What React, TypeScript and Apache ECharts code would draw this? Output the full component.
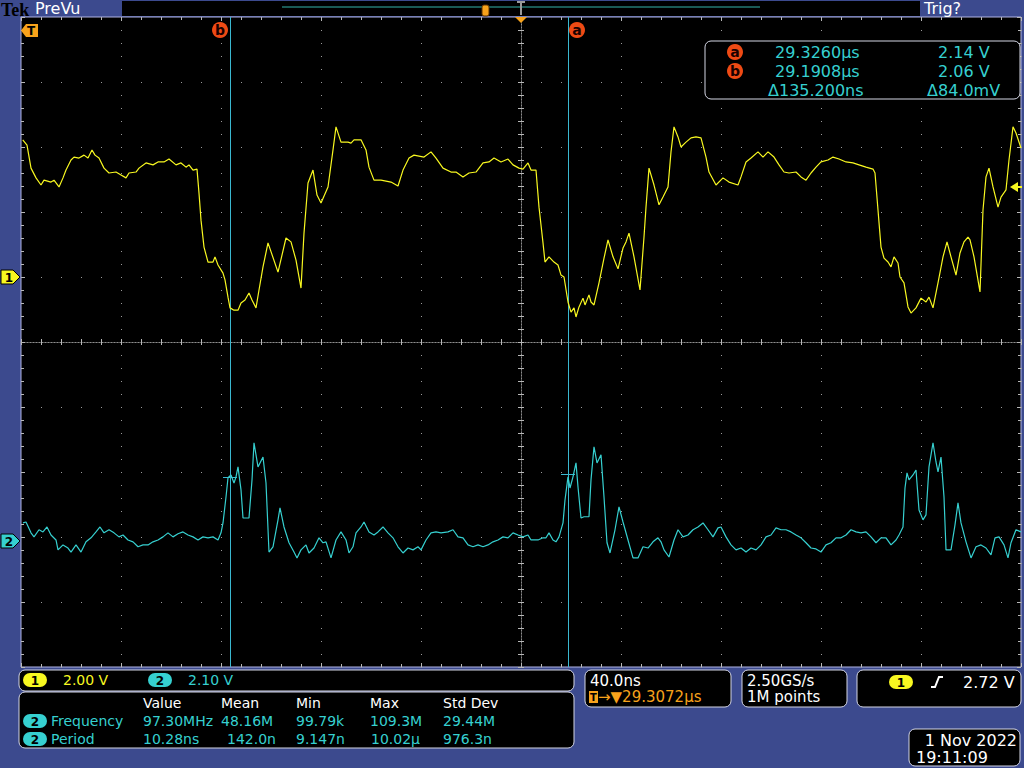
import { useEffect, useRef } from "react";
import * as echarts from "echarts";

// ---------- acquisition settings ----------
const TRIGGER_US = 29.3072;
const TIME_MIN_NS = -200;
const TIME_MAX_NS = 200;
const NS_PER_DIV = 40;
const DIV_MIN = -5;
const DIV_MAX = 5;
const CH1_V_PER_DIV = 2.0;
const CH1_POS_DIV = 1.0;
const CH2_V_PER_DIV = 2.1;
const CH2_POS_DIV = -3.06;

// ---------- waveforms: [time from trigger (ns), volts] ----------
const ch1Trace: [number, number][] = [
  [-199.3, 4.22], [-197.6, 4.06], [-196.0, 3.35], [-194.0, 3.05], [-192.0, 2.83], [-190.8, 2.98], [-188.0, 2.92], [-186.8, 2.98],
  [-184.8, 2.77], [-183.2, 3.05], [-182.0, 3.29], [-180.0, 3.6], [-178.8, 3.69], [-176.8, 3.66], [-174.8, 3.75], [-173.2, 3.66],
  [-171.6, 3.91], [-170.4, 3.75], [-168.8, 3.66], [-166.8, 3.35], [-164.8, 3.2], [-162.0, 3.23], [-160.0, 3.14], [-158.0, 3.05],
  [-156.8, 3.2], [-154.0, 3.23], [-152.8, 3.35], [-150.0, 3.51], [-147.2, 3.45], [-145.2, 3.54], [-142.8, 3.54], [-140.8, 3.63],
  [-138.0, 3.45], [-136.0, 3.51], [-134.0, 3.38], [-132.8, 3.45], [-131.2, 3.29], [-129.6, 3.32], [-128.8, 2.58], [-128.0, 1.75],
  [-126.8, 0.92], [-125.2, 0.46], [-123.2, 0.46], [-122.4, 0.62], [-121.2, 0.37], [-119.2, 0.12], [-118.4, -0.09], [-117.2, -0.62],
  [-116.4, -0.95], [-114.8, -1.02], [-113.2, -1.02], [-112.0, -0.8], [-110.4, -0.71], [-108.8, -0.49], [-107.6, -0.71], [-106.0, -0.95],
  [-104.8, -0.4], [-103.2, 0.31], [-101.2, 1.05], [-97.2, 0.15], [-94.0, 1.2], [-92.0, 1.08], [-90.0, 0.52], [-88.0, -0.34],
  [-86.8, 1.35], [-85.2, 2.89], [-83.2, 3.29], [-81.6, 2.52], [-80.0, 2.28], [-77.2, 2.77], [-75.2, 3.91], [-74.0, 4.62],
  [-72.0, 4.15], [-69.2, 4.15], [-68.0, 4.12], [-66.8, 4.22], [-64.0, 4.22], [-62.0, 3.91], [-60.8, 3.38], [-58.8, 2.98],
  [-56.0, 2.98], [-52.0, 2.92], [-49.2, 2.8], [-47.2, 3.29], [-44.8, 3.66], [-42.8, 3.75], [-38.8, 3.69], [-36.0, 3.85],
  [-34.0, 3.66], [-31.2, 3.35], [-28.0, 3.23], [-26.0, 3.23], [-23.2, 3.08], [-20.8, 3.2], [-18.0, 3.23], [-15.2, 3.51],
  [-12.8, 3.54], [-10.8, 3.66], [-8.0, 3.54], [-5.2, 3.63], [-3.2, 3.45], [-0.8, 3.35],
  [0.8, 3.32], [2.8, 3.51], [4.0, 3.29], [6.0, 3.29], [7.2, 2.15], [8.8, 1.05], [9.6, 0.46], [11.2, 0.62],
  [13.2, 0.46], [14.8, 0.37], [16.0, 0.06], [17.2, 0.0], [18.8, -0.77], [20.0, -1.08], [21.2, -0.95], [22.0, -1.23],
  [23.2, -0.92], [24.8, -0.65], [25.6, -0.86], [27.2, -0.55], [28.0, -0.77], [29.2, -0.86], [31.2, -0.18], [33.2, 0.58],
  [34.8, 1.14], [36.8, 0.62], [38.8, 0.25], [40.8, 0.89], [42.0, 1.08], [43.2, 1.35], [45.2, 0.62], [47.6, -0.4],
  [49.2, 1.23], [50.0, 2.15], [51.2, 3.35], [53.2, 2.83], [55.2, 2.22], [56.8, 2.46], [58.8, 2.77], [60.0, 3.85],
  [61.2, 4.62], [62.8, 4.31], [64.0, 4.0], [66.0, 4.15], [68.0, 4.28], [70.0, 4.31], [72.0, 4.28], [74.0, 3.69],
  [75.2, 3.23], [78.0, 2.83], [80.8, 3.05], [83.2, 2.92], [86.8, 2.83], [88.0, 3.08], [90.0, 3.54], [92.0, 3.66],
  [94.8, 3.85], [96.8, 3.69], [98.8, 3.85], [101.2, 3.69], [103.2, 3.45], [105.2, 3.23], [107.2, 3.2], [110.0, 3.23],
  [112.0, 3.08], [114.0, 2.98], [116.0, 3.2], [118.0, 3.38], [120.0, 3.54], [122.8, 3.6], [124.8, 3.69], [127.2, 3.63],
  [130.0, 3.54], [132.8, 3.51], [135.2, 3.45], [138.0, 3.38], [140.8, 3.32], [141.6, 3.2], [142.8, 2.06], [144.0, 0.92],
  [145.2, 0.58], [146.8, 0.46], [148.0, 0.31], [149.2, 0.62], [150.8, 0.43], [151.6, 0.0], [153.2, -0.18], [154.8, -0.92],
  [156.0, -1.11], [158.0, -0.95], [160.0, -0.65], [162.0, -0.77], [163.2, -0.62], [164.8, -0.95], [166.8, -0.18], [168.8, 0.62],
  [170.4, 1.08], [172.0, 0.62], [174.0, 0.06], [175.6, 0.74], [177.2, 1.08], [178.8, 1.23], [179.6, 1.14], [181.2, 0.62],
  [183.6, -0.46], [184.8, 2.06], [186.0, 3.08], [187.2, 3.35], [188.8, 2.77], [190.8, 2.15], [192.0, 2.46], [194.0, 2.68],
  [195.2, 3.6], [196.8, 4.62], [198.0, 4.43], [200.0, 3.97],
];

const ch2Trace: [number, number][] = [
  [-199.2, 0.58], [-198.0, 0.61], [-196.0, 0.26], [-194.8, 0.13], [-192.8, 0.36], [-191.2, 0.29], [-189.6, 0.45], [-188.0, 0.19],
  [-186.0, 0.03], [-185.2, -0.29], [-183.2, -0.13], [-181.2, -0.23], [-180.0, -0.36], [-178.0, -0.13], [-176.0, -0.36], [-174.0, -0.03],
  [-172.0, 0.1], [-170.0, 0.29], [-168.4, 0.45], [-166.8, 0.26], [-164.8, 0.36], [-162.8, 0.26], [-160.8, 0.13], [-159.2, 0.19],
  [-157.2, 0.03], [-155.2, -0.03], [-153.2, -0.19], [-151.2, -0.13], [-149.2, -0.13], [-147.2, -0.03], [-145.2, 0.03], [-143.2, 0.13],
  [-141.2, 0.26], [-139.2, 0.13], [-137.2, 0.23], [-135.2, 0.29], [-133.2, 0.19], [-131.2, 0.13], [-129.2, 0.03], [-127.2, 0.13],
  [-125.2, 0.1], [-123.2, 0.13], [-121.2, 0.03], [-120.0, 0.26], [-119.2, 0.58], [-118.0, 1.42], [-117.2, 2.04], [-116.0, 2.13],
  [-114.8, 1.87], [-114.0, 2.07], [-113.2, 2.39], [-112.0, 1.65], [-111.2, 0.74], [-108.8, 0.74], [-107.6, 1.97], [-106.8, 3.17],
  [-105.2, 2.39], [-103.2, 2.71], [-102.0, 1.87], [-100.8, -0.36], [-99.2, -0.19], [-97.2, 0.68], [-96.4, 1.07], [-94.8, 0.45],
  [-92.8, -0.06], [-90.8, -0.36], [-89.6, -0.55], [-88.0, -0.29], [-86.0, -0.13], [-84.8, -0.39], [-82.8, -0.23], [-80.8, 0.1],
  [-79.2, -0.06], [-78.0, -0.03], [-76.0, -0.55], [-74.0, 0.03], [-72.0, 0.29], [-70.0, 0.03], [-68.8, -0.39], [-67.2, -0.19],
  [-66.0, 0.26], [-64.0, 0.45], [-62.8, 0.61], [-60.8, 0.29], [-58.8, 0.19], [-57.2, 0.29], [-55.2, 0.45], [-53.2, 0.26],
  [-51.2, 0.1], [-49.2, -0.19], [-47.2, -0.39], [-45.2, -0.23], [-43.2, -0.29], [-41.2, -0.19], [-40.0, -0.29], [-38.0, 0.03],
  [-36.0, 0.26], [-34.0, 0.29], [-32.0, 0.26], [-29.2, 0.29], [-27.2, 0.36], [-25.2, 0.13], [-23.2, 0.1], [-21.2, -0.13],
  [-19.2, -0.19], [-17.2, -0.13], [-15.2, -0.19], [-13.2, -0.13], [-11.2, -0.03], [-9.2, 0.03], [-7.2, 0.13], [-5.2, 0.1],
  [-3.2, 0.26], [-1.2, 0.19], [0.8, 0.13], [2.8, 0.19], [4.0, 0.03], [6.8, 0.03], [8.8, 0.1], [10.0, 0.1],
  [11.2, 0.26], [12.8, 0.03], [14.0, -0.03], [15.2, 0.13], [16.8, 0.58], [17.6, 1.32], [18.8, 2.07], [19.6, 1.71],
  [20.8, 2.07], [22.0, 2.52], [22.8, 1.74], [24.0, 0.74], [25.2, 0.78], [27.2, 0.78], [28.0, 1.97], [29.2, 3.04],
  [30.4, 2.52], [32.0, 2.78], [33.2, 1.42], [34.4, -0.06], [35.6, -0.39], [37.6, 0.36], [39.2, 1.1], [40.8, 0.61],
  [42.8, 0.03], [44.8, -0.55], [46.8, -0.55], [48.8, -0.19], [50.8, -0.23], [52.8, -0.03], [54.8, 0.1], [56.0, -0.03],
  [57.2, -0.29], [59.2, -0.52], [61.2, 0.03], [62.8, 0.36], [64.8, 0.13], [66.8, 0.19], [68.8, 0.36], [70.8, 0.45],
  [72.8, 0.58], [74.8, 0.36], [76.8, 0.13], [78.8, 0.42], [80.0, 0.45], [82.0, 0.13], [84.0, -0.13], [86.0, -0.29],
  [88.0, -0.23], [90.0, -0.36], [92.0, -0.23], [94.0, -0.29], [96.0, -0.13], [98.0, 0.13], [100.0, 0.19], [102.0, 0.42],
  [104.0, 0.36], [106.0, 0.36], [108.0, 0.29], [110.0, 0.19], [112.0, 0.1], [114.0, -0.06], [116.0, -0.23], [118.0, -0.26],
  [120.0, -0.36], [122.0, -0.13], [124.0, -0.06], [126.0, 0.1], [128.0, 0.1], [130.0, 0.19], [132.0, 0.36], [134.0, 0.29],
  [136.0, 0.26], [138.0, 0.29], [140.0, 0.13], [142.0, -0.06], [144.0, 0.1], [146.0, 0.1], [148.0, -0.13], [150.0, 0.03],
  [151.2, 0.19], [152.8, 0.45], [153.6, 1.71], [154.4, 2.2], [155.2, 1.97], [156.8, 2.13], [158.0, 2.29], [159.2, 1.0],
  [160.8, 0.68], [162.0, 0.84], [163.2, 2.39], [164.8, 3.17], [166.0, 2.55], [166.8, 2.23], [168.0, 2.71], [169.2, 1.42],
  [170.0, -0.29], [172.0, -0.29], [173.6, 0.52], [174.8, 1.23], [176.0, 0.58], [178.0, -0.03], [180.0, -0.55], [182.0, -0.19],
  [184.0, -0.13], [186.0, -0.23], [188.0, -0.45], [189.6, 0.1], [191.2, 0.13], [193.2, -0.13], [194.8, -0.55], [196.0, -0.06],
  [198.0, 0.36], [200.0, 0.29],
];

// ---------- cursors (on channel 2) ----------
const cursorA = { us: 29.326, volts: 2.14 };
const cursorB = { us: 29.1908, volts: 2.06 };
const cursorRows = [
  ["a", "29.3260µs", "2.14 V"],
  ["b", "29.1908µs", "2.06 V"],
  ["", "Δ135.200ns", "Δ84.0mV"],
];

// ---------- readouts ----------
const channelScales = ["2.00 V", "2.10 V"];
const measHeaders = ["Value", "Mean", "Min", "Max", "Std Dev"];
const measFrequency = ["97.30MHz", "48.16M", "99.79k", "109.3M", "29.44M"];
const measPeriod = ["10.28ns", "142.0n", "9.147n", "10.02µ", "976.3n"];
const timebaseText = "40.0ns";
const triggerPosText = "29.3072µs";
const acquisition = ["2.50GS/s", "1M points"];
const triggerLevel = "2.72 V";
const dateText = ["1 Nov 2022", "19:11:09"];

const YELLOW = "#f8f820";
const CYAN = "#36d0d0";
const ORANGE = "#f7a21b";
const RED = "#ee4a14";
const CURSOR = "#3ab8d0";
const BLUE = "#3c4a8e";
const DOT = "#9a9a9a";
const TICK = "#b8b8b8";
const FONT = '"DejaVu Sans"';

const txt = (x: number, y: number, text: string, fill: string, size = 14, align = "left", weight = "normal", family = FONT) => ({
  type: "text",
  x,
  y,
  z: 100,
  silent: true,
  style: { text, fill, font: `${weight} ${size}px ${family}`, textAlign: align, textVerticalAlign: "middle" },
});

const box = (x: number, y: number, width: number, height: number) => ({
  type: "rect",
  z: 99,
  silent: true,
  shape: { x, y, width, height, r: 6 },
  style: { fill: "#000", stroke: "#d4d6e4", lineWidth: 1 },
});

const pill = (cx: number, cy: number, label: string, fill: string) => [
  { type: "rect", z: 100, silent: true, shape: { x: cx - 12, y: cy - 7, width: 24, height: 14, r: 7 }, style: { fill } },
  txt(cx, cy + 0.5, label, "#000", 12, "center", "bold"),
];

const badge = (cx: number, cy: number, label: string) => [
  { type: "circle", z: 100, silent: true, shape: { cx, cy, r: 8 }, style: { fill: RED } },
  txt(cx, cy, label, "#1a0000", 14, "center", "bold"),
];

const edgeX = (position: string, split: boolean) => ({
  type: "value",
  position,
  min: TIME_MIN_NS,
  max: TIME_MAX_NS,
  interval: NS_PER_DIV,
  axisLine: { show: false, onZero: false },
  axisTick: { show: true, inside: true, length: 4, lineStyle: { color: TICK } },
  minorTick: { show: true, splitNumber: 5, length: 3, lineStyle: { color: TICK } },
  axisLabel: { show: false },
  splitLine: { show: split, lineStyle: { color: DOT, width: 1, type: [1, 12] } },
});

const centerX = (position: string) => ({
  type: "value",
  position,
  min: TIME_MIN_NS,
  max: TIME_MAX_NS,
  interval: NS_PER_DIV,
  axisLine: { show: true, onZero: true, onZeroAxisIndex: 0, lineStyle: { color: "#8c8c8c", width: 1, type: [1, 2] } },
  axisTick: { show: true, inside: false, length: 3, lineStyle: { color: TICK } },
  minorTick: { show: true, splitNumber: 5, length: 3, lineStyle: { color: TICK } },
  axisLabel: { show: false },
  splitLine: { show: false },
});

const edgeY = (position: string, split: boolean) => ({
  type: "value",
  position,
  min: DIV_MIN,
  max: DIV_MAX,
  interval: 1,
  axisLine: { show: false, onZero: false },
  axisTick: { show: true, inside: true, length: 4, lineStyle: { color: TICK } },
  minorTick: { show: true, splitNumber: 5, length: 3, lineStyle: { color: TICK } },
  axisLabel: { show: false },
  splitLine: { show: split, lineStyle: { color: DOT, width: 1, type: [1, 19] } },
});

const centerY = (position: string) => ({
  type: "value",
  position,
  min: DIV_MIN,
  max: DIV_MAX,
  interval: 1,
  axisLine: { show: true, onZero: true, onZeroAxisIndex: 0, lineStyle: { color: "#8c8c8c", width: 1, type: [1, 2] } },
  axisTick: { show: true, inside: false, length: 3, lineStyle: { color: TICK } },
  minorTick: { show: true, splitNumber: 5, length: 3, lineStyle: { color: TICK } },
  axisLabel: { show: false },
  splitLine: { show: false },
});

export default function App() {
  const ref = useRef<HTMLDivElement>(null);

  useEffect(() => {
    if (!ref.current) return;
    const chart = echarts.init(ref.current, undefined, { renderer: "svg" });

    const ch1Div = ch1Trace.map(([t, v]) => [t, v / CH1_V_PER_DIV + CH1_POS_DIV]);
    const ch2Div = ch2Trace.map(([t, v]) => [t, v / CH2_V_PER_DIV + CH2_POS_DIV]);
    const tA = (cursorA.us - TRIGGER_US) * 1000;
    const tB = (cursorB.us - TRIGGER_US) * 1000;
    const yA = cursorA.volts / CH2_V_PER_DIV + CH2_POS_DIV;
    const yB = cursorB.volts / CH2_V_PER_DIV + CH2_POS_DIV;
    const half = 2.8;

    const valueCols = [143, 221, 296, 370, 443];
    const periodCols = [143, 227, 296, 371, 443];

    const graphic: any[] = [
      // top status bar
      { type: "rect", z: 99, silent: true, shape: { x: 122, y: 1, width: 798, height: 15 }, style: { fill: "#000" } },
      txt(1, 9.5, "Tek", "#000", 18, "left", "bold", '"Liberation Serif"'),
      txt(35, 8.5, "PreVu", "#fff", 16),
      txt(924, 8.5, "Trig?", "#fff", 16),
      { type: "line", z: 100, silent: true, shape: { x1: 282, y1: 7, x2: 760, y2: 7 }, style: { stroke: "#35b5ab", lineWidth: 1 } },
      { type: "rect", z: 101, silent: true, shape: { x: 482, y: 5, width: 7, height: 11, r: 2 }, style: { fill: ORANGE, stroke: "#5a3000", lineWidth: 1 } },
      { type: "line", z: 101, silent: true, shape: { x1: 521, y1: 2, x2: 521, y2: 15 }, style: { stroke: "#9a9a9a", lineWidth: 2 } },
      { type: "line", z: 101, silent: true, shape: { x1: 517, y1: 2, x2: 525, y2: 2 }, style: { stroke: "#9a9a9a", lineWidth: 2 } },
      { type: "polygon", z: 101, silent: true, shape: { points: [[515, 17], [527, 17], [521, 23]] }, style: { fill: ORANGE } },
      // trigger position marker (left, inside graticule)
      { type: "polygon", z: 100, silent: true, shape: { points: [[21, 30.5], [26, 24], [38, 24], [38, 37], [26, 37]] }, style: { fill: ORANGE } },
      txt(31, 31, "T", "#000", 12, "center", "bold"),
      // cursor badges
      ...badge(220, 30, "b"),
      ...badge(577, 30, "a"),
      // channel ground markers
      { type: "polygon", z: 100, silent: true, shape: { points: [[1, 270], [13, 270], [20, 277], [13, 284], [1, 284]] }, style: { fill: YELLOW, stroke: "#000", lineWidth: 1 } },
      txt(9, 277.5, "1", "#000", 12, "center", "bold"),
      { type: "polygon", z: 100, silent: true, shape: { points: [[1, 534], [13, 534], [20, 541], [13, 548], [1, 548]] }, style: { fill: CYAN, stroke: "#000", lineWidth: 1 } },
      txt(9, 541.5, "2", "#000", 12, "center", "bold"),
      // trigger level arrow
      { type: "polygon", z: 100, silent: true, shape: { points: [[1010, 187], [1018, 182], [1018, 192]] }, style: { fill: YELLOW } },
      { type: "line", z: 100, silent: true, shape: { x1: 1017, y1: 187, x2: 1022, y2: 187 }, style: { stroke: YELLOW, lineWidth: 2 } },
      // cursor readout box
      box(705, 41, 315, 58),
    ];

    cursorRows.forEach((row, i) => {
      const y = 52 + i * 19;
      if (row[0]) graphic.push(...badge(735, y, row[0]));
      graphic.push(txt(i === 2 ? 768 : 775, y, row[1], CYAN, 16));
      graphic.push(txt(i === 2 ? 927 : 938, y, row[2], CYAN, 16));
    });

    // channel scale box
    graphic.push(box(19, 670, 555, 21));
    graphic.push(...pill(35, 680, "1", YELLOW));
    graphic.push(txt(63, 680, channelScales[0], YELLOW, 14));
    graphic.push(...pill(160, 680, "2", CYAN));
    graphic.push(txt(188, 680, channelScales[1], CYAN, 14));

    // measurements box
    graphic.push(box(19, 692, 555, 56));
    measHeaders.forEach((h, i) => graphic.push(txt(valueCols[i], 703, h, "#fff", 14)));
    graphic.push(...pill(35, 721, "2", CYAN));
    graphic.push(txt(51, 721, "Frequency", CYAN, 14));
    measFrequency.forEach((v, i) => graphic.push(txt(valueCols[i], 721, v, CYAN, 14)));
    graphic.push(...pill(35, 739, "2", CYAN));
    graphic.push(txt(51, 739, "Period", CYAN, 14));
    measPeriod.forEach((v, i) => graphic.push(txt(periodCols[i], 739, v, CYAN, 14)));

    // timebase box
    graphic.push(box(585, 670, 146, 37));
    graphic.push(txt(590, 680.5, timebaseText, "#fff", 15));
    graphic.push({ type: "rect", z: 100, silent: true, shape: { x: 589, y: 691, width: 9, height: 12 }, style: { fill: ORANGE } });
    graphic.push(txt(593.5, 697.5, "T", "#000", 10, "center", "bold"));
    graphic.push(txt(598, 697, "→▼" + triggerPosText, ORANGE, 15));

    // acquisition box
    graphic.push(box(742, 670, 105, 37));
    graphic.push(txt(747, 680.5, acquisition[0], "#fff", 15));
    graphic.push(txt(747, 697, acquisition[1], "#fff", 15));

    // trigger box
    graphic.push(box(857, 670, 164, 37));
    graphic.push(...pill(901, 682, "1", YELLOW));
    graphic.push({ type: "polyline", z: 100, silent: true, shape: { points: [[931, 687], [935, 687], [939, 677], [943, 677]] }, style: { stroke: "#fff", lineWidth: 2, fill: null } });
    graphic.push(txt(963, 682, triggerLevel, "#fff", 16));

    // date box
    graphic.push(box(909, 729, 111, 37));
    graphic.push(txt(1017, 740, dateText[0], "#fff", 16, "right"));
    graphic.push(txt(916, 757, dateText[1], "#fff", 16));

    chart.setOption({
      animation: false,
      backgroundColor: BLUE,
      grid: {
        left: 21,
        top: 17,
        width: 1000,
        height: 650,
        show: true,
        backgroundColor: "#000",
        borderColor: "#b0b4e4",
        borderWidth: 1,
        containLabel: false,
        outerBoundsMode: "none",
      },
      xAxis: [edgeX("bottom", true), edgeX("top", false), centerX("bottom"), centerX("top")],
      yAxis: [edgeY("left", true), edgeY("right", false), centerY("left"), centerY("right")],
      series: [
        {
          type: "line",
          name: "CH1",
          xAxisIndex: 0,
          yAxisIndex: 0,
          data: ch1Div,
          symbol: "none",
          showSymbol: false,
          silent: true,
          z: 5,
          lineStyle: { color: YELLOW, width: 1.2 },
          itemStyle: { color: YELLOW },
        },
        {
          type: "line",
          name: "CH2",
          xAxisIndex: 0,
          yAxisIndex: 0,
          data: ch2Div,
          symbol: "none",
          showSymbol: false,
          silent: true,
          z: 5,
          lineStyle: { color: CYAN, width: 1.2 },
          itemStyle: { color: CYAN },
          markLine: {
            silent: true,
            symbol: ["none", "none"],
            label: { show: false },
            lineStyle: { color: CURSOR, width: 1, type: "solid" },
            data: [
              { xAxis: tA },
              { xAxis: tB },
              [{ coord: [tA - half, yA] }, { coord: [tA + half, yA] }],
              [{ coord: [tB - half, yB] }, { coord: [tB + half, yB] }],
            ],
          },
        },
      ],
      graphic,
    });

    return () => chart.dispose();
  }, []);

  return <div ref={ref} style={{ position: "absolute", left: 0, top: 0, width: 1024, height: 768 }} />;
}
